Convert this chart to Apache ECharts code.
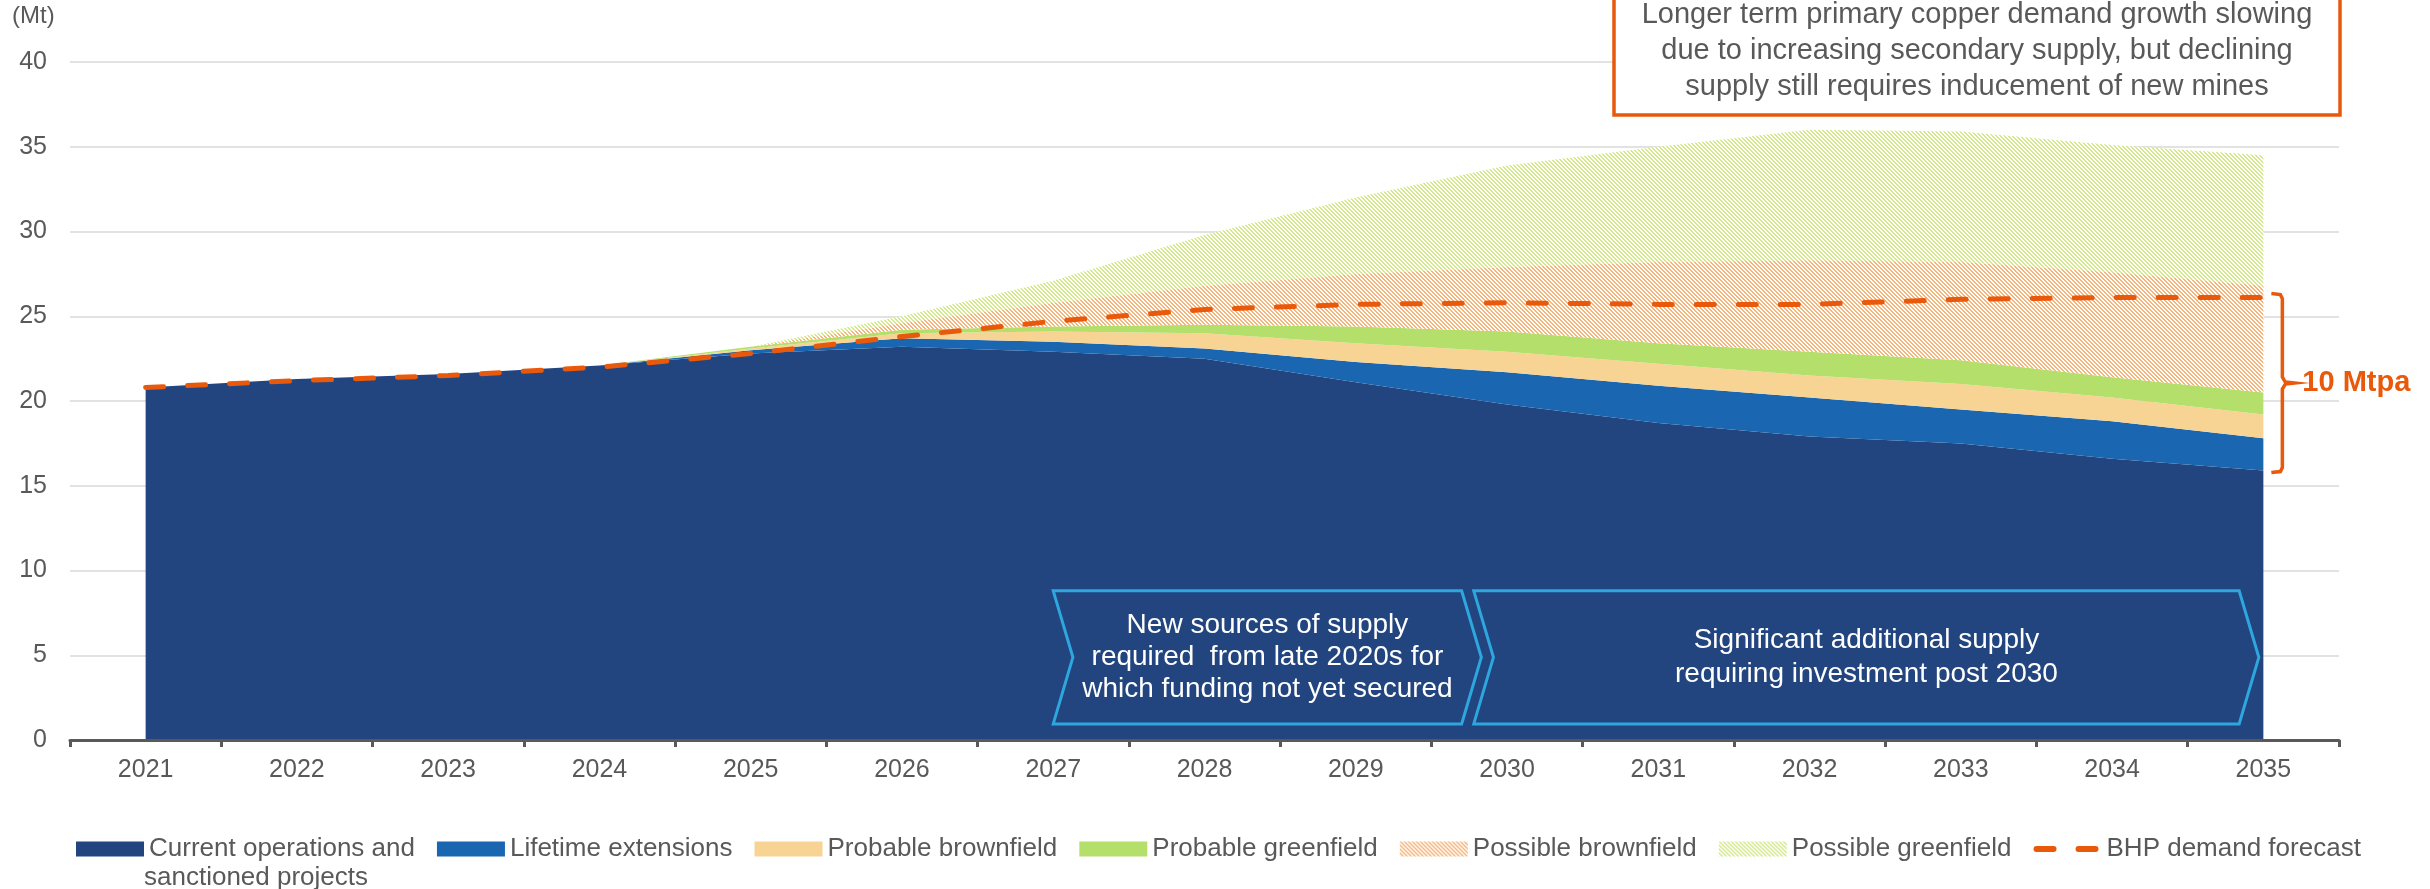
<!DOCTYPE html>
<html><head><meta charset="utf-8">
<script src="https://cdn.jsdelivr.net/npm/echarts@6/dist/echarts.min.js"></script>
<style>html,body{margin:0;padding:0;background:#fff}#c{width:2430px;height:889px}</style>
</head><body><div id="c"></div>
<script>
// ---- data (Mt) ----
const years = ['2021','2022','2023','2024','2025','2026','2027','2028','2029','2030','2031','2032','2033','2034','2035'];
const currentOps   = [20.8,21.3,21.6,22.1,22.8,23.2,22.9,22.5,21.1,19.8,18.7,17.9,17.5,16.6,15.9];
const lifetimeExt  = [0,0,0,0,0.2,0.5,0.6,0.6,1.2,1.9,2.2,2.3,2.0,2.2,1.9];
const probBrown    = [0,0,0,0,0.1,0.3,0.6,0.9,1.1,1.2,1.3,1.3,1.5,1.4,1.4];
const probGreen    = [0,0,0,0,0.1,0.2,0.3,0.5,1.0,1.2,1.2,1.4,1.4,1.2,1.3];
const possBrown    = [0,0,0,0,0.0,0.4,1.4,2.3,3.1,3.8,4.8,5.4,5.8,6.2,6.3];
const possGreen    = [0,0,0,0,0.0,0.4,1.3,3.0,4.5,6.0,6.8,7.7,7.7,7.5,7.7];
const demand       = [20.8,21.2,21.5,22.0,22.8,23.8,24.7,25.4,25.7,25.8,25.7,25.7,26.0,26.1,26.1];
const yTicks = {min:0, max:40, step:5};

const FONT = "'Liberation Sans', Arial, sans-serif";
const GREY = '#595959';
const ORANGE = '#E8590C';

function hatch(color){
  const c = document.createElement('canvas');
  c.width = 4; c.height = 4;
  const g = c.getContext('2d');
  g.fillStyle = '#ffffff'; g.fillRect(0,0,4,4);
  g.fillStyle = color;
  for (let i=0;i<4;i++){ g.fillRect(i,i,1,1); g.fillRect((i+1)%4,i,1,1); }
  return {image:c, repeat:'repeat'};
}

function areaSeries(name, data, fill){
  return {name, type:'line', stack:'supply', data, symbol:'none', showSymbol:false, silent:true,
    lineStyle:{width:0, color:fill}, itemStyle:{color:fill}, areaStyle:{color:fill, opacity:1},
    emphasis:{disabled:true}, z:2};
}

// legend icon for the dashed forecast line (two rounded dashes in a 68x15 box)
const DASH_ICON = 'path://M0,0h0.01v0.01h-0.01z M67.99,14.99h0.01v0.01h-0.01z ' +
  'M3,4.5h17a3,3 0 0 1 0,6h-17a3,3 0 0 1 0,-6z M45,4.5h17a3,3 0 0 1 0,6h-17a3,3 0 0 1 0,-6z';

const NAME1 = 'Current operations and sanctioned projects';
const chart = echarts.init(document.getElementById('c'));
chart.setOption({
  animation:false,
  textStyle:{fontFamily:FONT},
  grid:{left:70, right:91, top:62, bottom:149, containLabel:false},
  xAxis:{type:'category', data:years, boundaryGap:true, z:10,
    axisLine:{lineStyle:{color:GREY, width:3}},
    axisTick:{show:true, length:7, lineStyle:{color:GREY, width:3}},
    axisLabel:{fontSize:25, color:GREY, margin:18, fontFamily:FONT}},
  yAxis:{type:'value', min:yTicks.min, max:yTicks.max, interval:yTicks.step,
    axisLine:{show:false}, axisTick:{show:false},
    splitLine:{lineStyle:{color:'#d9d9d9', width:1.5}},
    axisLabel:{fontSize:25, color:GREY, margin:23, fontFamily:FONT}},
  legend:{left:71, top:831, itemWidth:68, itemHeight:15, itemGap:22, selectedMode:false,
    textStyle:{fontSize:26, color:GREY, fontFamily:FONT},
    formatter:n => n===NAME1 ? 'Current operations and' : n,
    data:[
      {name:NAME1, icon:'rect'},
      {name:'Lifetime extensions', icon:'rect'},
      {name:'Probable brownfield', icon:'rect'},
      {name:'Probable greenfield', icon:'rect'},
      {name:'Possible brownfield', icon:'rect'},
      {name:'Possible greenfield', icon:'rect'},
      {name:'BHP demand forecast', icon:DASH_ICON, itemStyle:{color:ORANGE, borderWidth:0}}
    ]},
  series:[
    areaSeries(NAME1, currentOps, '#22457F'),
    areaSeries('Lifetime extensions', lifetimeExt, '#1A66B0'),
    areaSeries('Probable brownfield', probBrown, '#F7D494'),
    areaSeries('Probable greenfield', probGreen, '#B3DF6A'),
    areaSeries('Possible brownfield', possBrown, hatch('#F4B47A')),
    areaSeries('Possible greenfield', possGreen, hatch('#D3E98C')),
    {name:'BHP demand forecast', type:'line', data:demand, symbol:'none', showSymbol:false, z:5, silent:true,
      lineStyle:{color:ORANGE, width:5, type:[18,24], cap:'round'}, itemStyle:{color:ORANGE}}
  ]
});

// ---- annotations positioned through the axes ----
const p0 = chart.convertToPixel({xAxisIndex:0, yAxisIndex:0}, [0, 0]);
const p1 = chart.convertToPixel({xAxisIndex:0, yAxisIndex:0}, [1, yTicks.max]);
const cw = p1[0]-p0[0];
const px = i => p0[0] + i*cw;
const py = v => p0[1] + v*(p1[1]-p0[1])/yTicks.max;

function chevron(i0, i1, vTop, vBot){
  const d = 0.13*cw, yT = py(vTop), yB = py(vBot), yM = (yT+yB)/2;
  const L = px(i0), R = px(i1);
  return [[L,yT],[R,yT],[R+d,yM],[R,yB],[L,yB],[L+d,yM]];
}
const ch1 = chevron(6, 8.7, 8.8, 0.95);
const ch2 = chevron(8.78, 13.84, 8.8, 0.95);

const last = years.length-1;
const bx = px(last)+19, bTop = py(demand[last])-4, bBot = py(currentOps[last])+2, bMid = (bTop+bBot)/2;

chart.setOption({graphic:[
  {type:'text', x:12, y:16, style:{text:'(Mt)', fontSize:24, fill:GREY, fontFamily:FONT, verticalAlign:'middle'}},
  {type:'rect', shape:{x:1614, y:-10, width:726, height:125}, style:{fill:'#fff', stroke:ORANGE, lineWidth:3.5}, z:20},
  {type:'text', x:1977, y:51, z:21, style:{text:'Longer term primary copper demand growth slowing\ndue to increasing secondary supply, but declining\nsupply still requires inducement of new mines',
    align:'center', verticalAlign:'middle', fontSize:29, lineHeight:36, fill:GREY, fontFamily:FONT}},
  {type:'polygon', shape:{points:ch1}, style:{fill:'none', stroke:'#2EA6DE', lineWidth:3}, z:20},
  {type:'polygon', shape:{points:ch2}, style:{fill:'none', stroke:'#2EA6DE', lineWidth:3}, z:20},
  {type:'text', x:(ch1[0][0]+ch1[1][0])/2+10, y:(ch1[0][1]+ch1[3][1])/2, z:21, style:{text:'New sources of supply\nrequired  from late 2020s for\nwhich funding not yet secured',
    align:'center', verticalAlign:'middle', fontSize:28, lineHeight:32, fill:'#fff', fontFamily:FONT}},
  {type:'text', x:(ch2[0][0]+ch2[1][0])/2+10, y:(ch2[0][1]+ch2[3][1])/2, z:21, style:{text:'Significant additional supply\nrequiring investment post 2030',
    align:'center', verticalAlign:'middle', fontSize:28, lineHeight:34, fill:'#fff', fontFamily:FONT}},
  {type:'polyline', z:20, shape:{points:[[bx-11,bTop],[bx-2,bTop+1],[bx,bTop+5],[bx,bMid-6],[bx+3,bMid-1],[bx+12,bMid],[bx+3,bMid+1],[bx,bMid+6],[bx,bBot-5],[bx-2,bBot-1],[bx-11,bBot]]},
    style:{stroke:ORANGE, lineWidth:3.5, fill:'none'}},
  {type:'text', x:bx+20, y:bMid, z:21, style:{text:'10 Mtpa', fontSize:29, fontWeight:'bold', fill:ORANGE, fontFamily:FONT, verticalAlign:'middle'}},
  {type:'text', x:144, y:878, style:{text:'sanctioned projects', fontSize:26, fill:GREY, fontFamily:FONT, verticalAlign:'middle'}}
]});
</script></body></html>
